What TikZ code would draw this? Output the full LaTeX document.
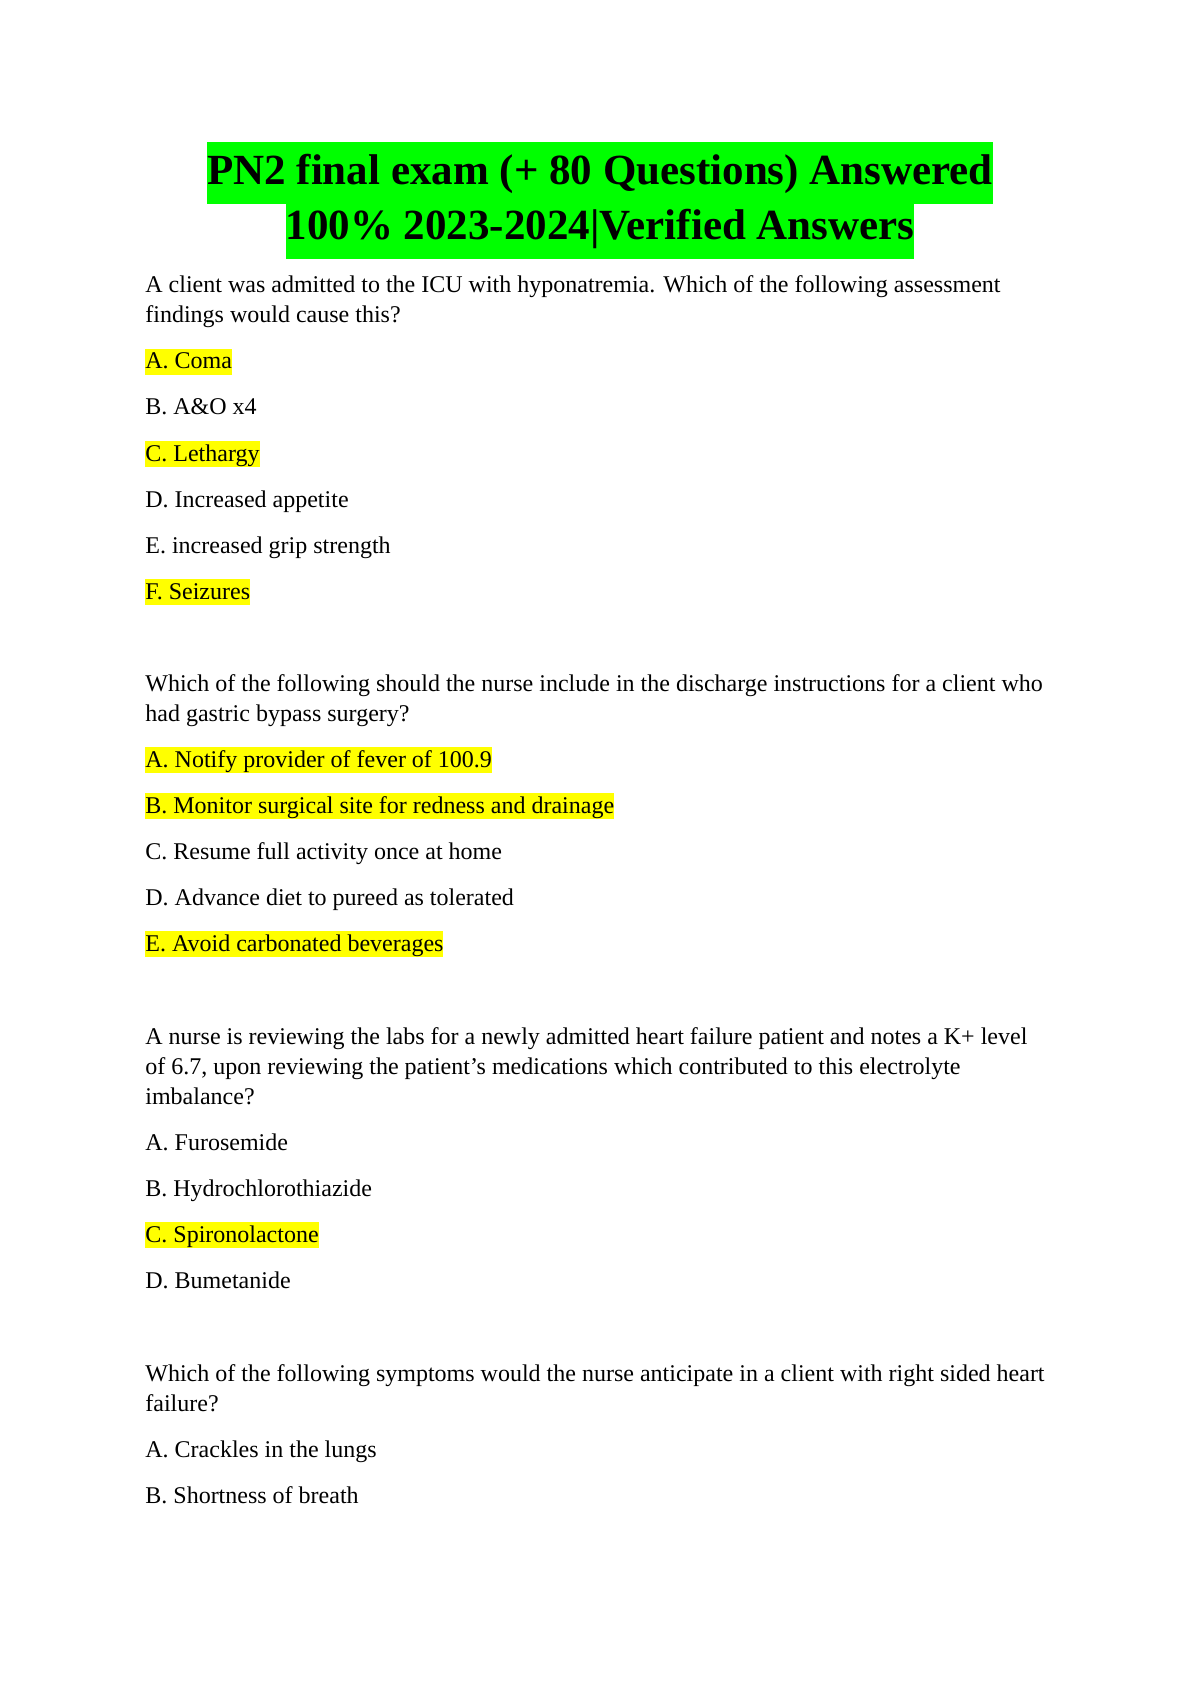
\documentclass[tikz,border=0pt]{standalone}
\usepackage{fontspec}
\setmainfont{Liberation Serif}
\definecolor{titlegreen}{RGB}{0,255,0}
\definecolor{hiyellow}{RGB}{255,255,0}
\tikzset{
  txt/.style={anchor=base west, inner sep=0pt, font=\fontsize{12}{14}\selectfont, align=left},
  ans/.style={txt, fill=hiyellow, inner ysep=0pt, text height=10pt, text depth=3.2pt},
  ttl/.style={anchor=base, inner xsep=0pt, fill=titlegreen, text height=18pt, text depth=6pt, font=\fontsize{21.5}{26}\bfseries\selectfont}
}
\begin{document}
\begin{tikzpicture}[x=0.5pt, y=-0.5pt]
  \useasboundingbox (0,0) rectangle (1191,1684);
  % title
  \node[ttl] (t1) at (600,185) {PN2 final exam (+ 80 Questions) Answered};
  \node[ttl] (t2) at (600,240) {100\% 2023-2024|Verified Answers};
  % question 1
  \node[txt] (q1a) at (145,293) {A client was admitted to the ICU with hyponatremia. Which of the following assessment};
  \node[txt] (q1b) at (145,323) {findings would cause this?};
  \node[ans] (q1A) at (145,369) {A. Coma};
  \node[txt] (q1B) at (145,415) {B. A\&O x4};
  \node[ans] (q1C) at (145,461) {C. Lethargy};
  \node[txt] (q1D) at (145,507) {D. Increased appetite};
  \node[txt] (q1E) at (145,553) {E. increased grip strength};
  \node[ans] (q1F) at (145,599) {F. Seizures};
  % question 2
  \node[txt] (q2a) at (145,691) {Which of the following should the nurse include in the discharge instructions for a client who};
  \node[txt] (q2b) at (145,721) {had gastric bypass surgery?};
  \node[ans] (q2A) at (145,767) {A. Notify provider of fever of 100.9};
  \node[ans] (q2B) at (145,813) {B. Monitor surgical site for redness and drainage};
  \node[txt] (q2C) at (145,859) {C. Resume full activity once at home};
  \node[txt] (q2D) at (145,905) {D. Advance diet to pureed as tolerated};
  \node[ans] (q2E) at (145,951) {E. Avoid carbonated beverages};
  % question 3
  \node[txt] (q3a) at (145,1044) {A nurse is reviewing the labs for a newly admitted heart failure patient and notes a K+ level};
  \node[txt] (q3b) at (145,1074) {of 6.7, upon reviewing the patient's medications which contributed to this electrolyte};
  \node[txt] (q3c) at (145,1104) {imbalance?};
  \node[txt] (q3A) at (145,1150) {A. Furosemide};
  \node[txt] (q3B) at (145,1196) {B. Hydrochlorothiazide};
  \node[ans] (q3C) at (145,1242) {C. Spironolactone};
  \node[txt] (q3D) at (145,1288) {D. Bumetanide};
  % question 4
  \node[txt] (q4a) at (145,1381) {Which of the following symptoms would the nurse anticipate in a client with right sided heart};
  \node[txt] (q4b) at (145,1411) {failure?};
  \node[txt] (q4A) at (145,1457) {A. Crackles in the lungs};
  \node[txt] (q4B) at (145,1503) {B. Shortness of breath};
\end{tikzpicture}
\end{document}
